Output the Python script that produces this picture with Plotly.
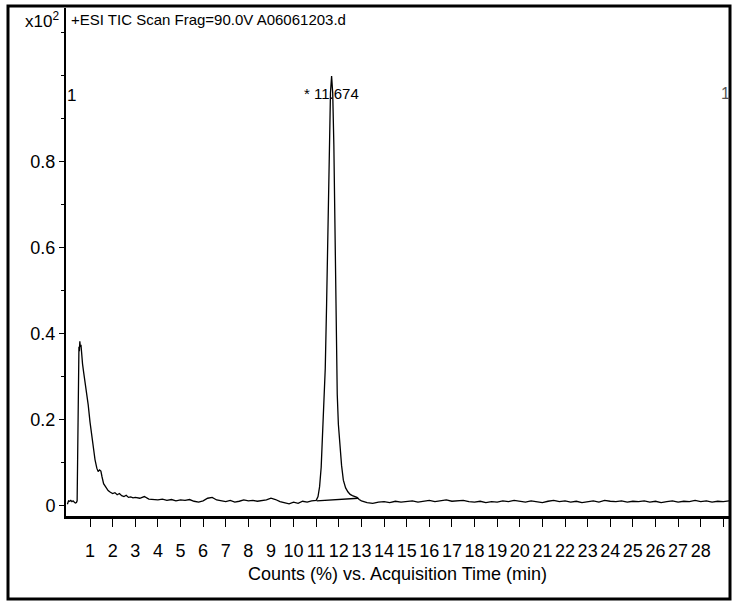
import plotly.graph_objects as go

# ---- data (x = minutes, y = counts x10^2) ----
t_front = [0.0, 0.05, 0.1, 0.15, 0.2, 0.25, 0.3, 0.35, 0.4, 0.43, 0.45, 0.47, 0.49, 0.51, 0.53,
           0.55, 0.57, 0.6, 0.63, 0.67, 0.72, 0.78, 0.85, 0.92, 1.0, 1.08, 1.15, 1.22, 1.3,
           1.36, 1.42, 1.48, 1.53, 1.6, 1.7, 1.8, 1.9, 2.0, 2.1, 2.2, 2.3, 2.4, 2.5, 2.6,
           2.7, 2.8, 2.9, 3.0]
i_front = [0.004, 0.012, 0.011, 0.013, 0.010, 0.012, 0.009, 0.007, 0.008, 0.012, 0.10, 0.22, 0.32, 0.37, 0.36,
           0.383, 0.37, 0.375, 0.345, 0.33, 0.31, 0.29, 0.265, 0.235, 0.195, 0.16, 0.132, 0.108, 0.088,
           0.08, 0.084, 0.081, 0.068, 0.052, 0.044, 0.036, 0.032, 0.029, 0.031, 0.026, 0.029, 0.024, 0.022, 0.025,
           0.020, 0.021, 0.019, 0.020]

t_base1 = [3.2, 3.4, 3.6, 3.8, 4.0, 4.2, 4.4, 4.6, 4.8, 5.0, 5.2, 5.4, 5.6, 5.8, 6.0, 6.2, 6.4,
           6.6, 6.8, 7.0, 7.2, 7.4, 7.6, 7.8, 8.0, 8.2, 8.4, 8.6, 8.8, 9.0, 9.2, 9.4, 9.6, 9.8,
           10.0, 10.2, 10.4, 10.6, 10.8]
i_base1 = [0.018, 0.022, 0.016, 0.015, 0.014, 0.016, 0.013, 0.015, 0.012, 0.014, 0.013, 0.015, 0.011,
           0.009, 0.012, 0.018, 0.020, 0.014, 0.012, 0.010, 0.013, 0.009, 0.011, 0.014, 0.012, 0.013,
           0.011, 0.012, 0.014, 0.018, 0.015, 0.010, 0.008, 0.005, 0.009, 0.006, 0.011, 0.009, 0.012]

t_peak = [11.0, 11.08, 11.15, 11.22, 11.28, 11.34, 11.4, 11.46, 11.52, 11.58, 11.63, 11.68, 11.73,
          11.78, 11.83, 11.88, 11.93, 11.98, 12.05, 12.12, 12.2, 12.3, 12.4, 12.5, 12.6, 12.7, 12.8,
          12.9, 13.0]
i_peak = [0.013, 0.022, 0.045, 0.09, 0.17, 0.25, 0.32, 0.47, 0.66, 0.86, 0.96, 1.0, 0.96,
          0.84, 0.6, 0.38, 0.26, 0.19, 0.14, 0.095, 0.06, 0.042, 0.033, 0.027, 0.024, 0.022, 0.020,
          0.015, 0.012]

t_base2 = [13.25, 13.5, 13.75, 14.0, 14.25, 14.5, 14.75, 15.0, 15.25, 15.5, 15.75, 16.0, 16.25, 16.5,
           16.75, 17.0, 17.25, 17.5, 17.75, 18.0, 18.25, 18.5, 18.75, 19.0, 19.25, 19.5, 19.75, 20.0,
           20.25, 20.5, 20.75, 21.0, 21.25, 21.5, 21.75, 22.0, 22.25, 22.5, 22.75, 23.0, 23.25, 23.5,
           23.75, 24.0, 24.25, 24.5, 24.75, 25.0, 25.25, 25.5, 25.75, 26.0, 26.25, 26.5, 26.75, 27.0,
           27.25, 27.5, 27.75, 28.0, 28.25, 28.5, 28.75, 29.0, 29.25]
i_base2 = [0.008, 0.006, 0.009, 0.010, 0.008, 0.011, 0.009, 0.010, 0.012, 0.009, 0.011, 0.013, 0.010,
           0.012, 0.014, 0.011, 0.012, 0.013, 0.010, 0.009, 0.011, 0.008, 0.010, 0.009, 0.012, 0.010,
           0.013, 0.011, 0.009, 0.012, 0.010, 0.008, 0.011, 0.013, 0.010, 0.012, 0.009, 0.011, 0.008,
           0.010, 0.012, 0.009, 0.013, 0.011, 0.010, 0.012, 0.009, 0.011, 0.010, 0.012, 0.009, 0.011,
           0.008, 0.010, 0.012, 0.009, 0.011, 0.010, 0.013, 0.010, 0.012, 0.009, 0.011, 0.010, 0.012]

integ_t = [11.02, 12.86]
integ_i = [0.012, 0.018]

x_ticks = list(range(1, 29))
x_labels = [str(v) for v in x_ticks]
x_extra_ticks = [29]
y_ticks = [0, 0.2, 0.4, 0.6, 0.8]
y_labels = ["0", "0.2", "0.4", "0.6", "0.8"]

peak_rt = 11.674
peak_label = "* 11.674"
title_text = "+ESI TIC Scan Frag=90.0V A06061203.d"
x_title = "Counts (%) vs. Acquisition Time (min)"

FONT = "Liberation Sans, Arial, sans-serif"

t_all = t_front + t_base1 + t_peak + t_base2
i_all = i_front + i_base1 + i_peak + i_base2

fig = go.Figure()
fig.add_trace(go.Scatter(x=t_all, y=i_all, mode="lines",
                         line=dict(color="black", width=1.3), hoverinfo="skip"))
fig.add_trace(go.Scatter(x=integ_t, y=integ_i, mode="lines",
                         line=dict(color="black", width=1.3), hoverinfo="skip"))

W, H = 733, 604
L, R, T, B = 66, 4, 8, 88
pw, ph = W - L - R, H - T - B

def px(xp):
    return (xp - L) / pw

def py(yp):
    return (H - B - yp) / ph

fig.update_layout(
    width=W, height=H,
    margin=dict(l=L, r=R, t=T, b=B),
    paper_bgcolor="white", plot_bgcolor="white",
    showlegend=False,
    font=dict(family=FONT, color="black", size=18),
    xaxis=dict(range=[-0.062, 29.25], showgrid=False, zeroline=False,
               showline=True, linecolor="black", linewidth=2.5,
               tickmode="array", tickvals=x_ticks, ticktext=x_labels,
               ticks="outside", ticklen=8, tickwidth=1, tickcolor="black",
               ticklabelstandoff=9, tickangle=0,
               tickfont=dict(family=FONT, size=18),
               minor=dict(tickmode="array", tickvals=x_extra_ticks, ticks="outside",
                          ticklen=8, tickwidth=1, tickcolor="black"),
               title=dict(text=x_title, font=dict(family=FONT, size=18), standoff=8)),
    yaxis=dict(range=[-0.0233, 1.158], showgrid=False, zeroline=False,
               showline=True, linecolor="black", linewidth=2,
               tickmode="array", tickvals=y_ticks, ticktext=y_labels,
               ticks="outside", ticklen=5, tickwidth=1, tickcolor="black",
               tickfont=dict(family=FONT, size=18),
               minor=dict(dtick=0.1, ticks="outside", ticklen=3, tickcolor="black")),
)

# outer frame
fig.add_shape(type="rect", xref="paper", yref="paper",
              x0=px(8), x1=px(730), y0=py(599), y1=py(6),
              line=dict(color="black", width=3), fillcolor="rgba(0,0,0,0)")

fig.add_annotation(xref="paper", yref="paper", x=px(69), y=py(20), xanchor="left", yanchor="middle",
                   text=title_text, showarrow=False, font=dict(family=FONT, size=15))
fig.add_annotation(xref="paper", yref="paper", x=px(61), y=py(20), xanchor="right", yanchor="middle",
                   text="x10<sup>2</sup>", showarrow=False, font=dict(family=FONT, size=17))
fig.add_annotation(x=0.2, y=0.955, xanchor="center", yanchor="middle", text="1",
                   showarrow=False, font=dict(family=FONT, size=17))
fig.add_annotation(x=29.1, y=0.96, xanchor="center", yanchor="middle", text="1",
                   showarrow=False, font=dict(family=FONT, size=16, color="#555"))
fig.add_annotation(x=peak_rt, y=0.96, xanchor="center", yanchor="middle", text=peak_label,
                   showarrow=False, font=dict(family=FONT, size=15))

fig.write_html("out.html")
